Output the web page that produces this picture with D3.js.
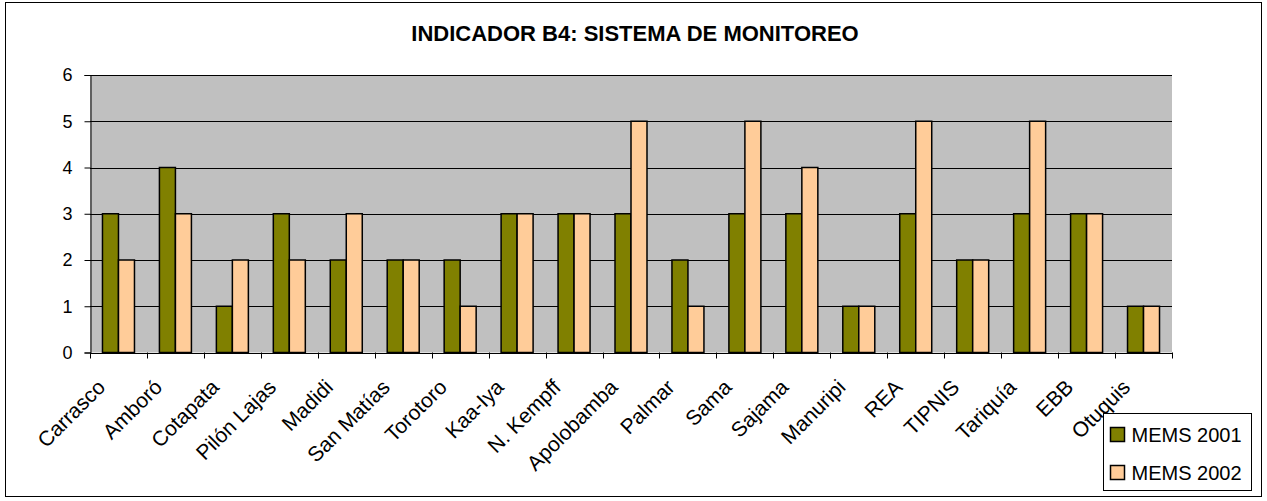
<!DOCTYPE html>
<html>
<head>
<meta charset="utf-8">
<script src="https://cdn.jsdelivr.net/npm/d3@7"></script>
<style>
  body { margin: 0; background: #fff; }
  svg { font-family: Arial, "Liberation Sans", sans-serif; }
</style>
</head>
<body>
<svg width="1267" height="501"></svg>
<script>
const areas = ["Carrasco", "Amboró", "Cotapata", "Pilón Lajas", "Madidi", "San Matías", "Torotoro",
  "Kaa-Iya", "N. Kempff", "Apolobamba", "Palmar", "Sama", "Sajama", "Manuripi", "REA", "TIPNIS",
  "Tariquía", "EBB", "Otuquis"]
const mems2001 = [3, 4, 1, 3, 2, 2, 2, 3, 3, 3, 2, 3, 3, 1, 3, 2, 3, 3, 1]
const mems2002 = [2, 3, 2, 2, 3, 2, 1, 3, 3, 5, 1, 5, 4, 1, 5, 2, 5, 3, 1]
const seriesNames = ["MEMS 2001", "MEMS 2002"]
const yTicks = [0, 1, 2, 3, 4, 5, 6]

let svg = d3.select("svg")

// chart border
svg.append("rect")
  .attr("x", 5.5).attr("y", 2.5).attr("width", 1256).attr("height", 494)
  .attr("fill", "#fff").attr("stroke", "#000")

let rows = areas.map((a, i) => ({ area: a, v: [mems2001[i], mems2002[i]] }))

let x = d3.scaleBand().domain(areas).range([90, 1172])
let xs = d3.scaleBand().domain([0, 1]).range([0, x.bandwidth()]).paddingInner(0).paddingOuter(0.78)
let y = d3.scaleLinear().domain([0, 6]).range([352.5, 75])
let fill = d3.scaleOrdinal().domain([0, 1]).range(["#808000", "#FFCC99"])

svg.append("rect")
  .attr("x", 90).attr("y", y(6)).attr("width", 1082).attr("height", y(0) - y(6))
  .attr("fill", "#C0C0C0")

svg.append("g")
  .selectAll("line")
  .data(yTicks.slice(1)).enter()
  .append("line")
  .attr("x1", 90).attr("x2", 1172)
  .attr("y1", d => Math.round(y(d)) + 0.5).attr("y2", d => Math.round(y(d)) + 0.5)
  .attr("stroke", "#000")

svg.append("g")
  .selectAll("g")
  .data(rows).enter()
  .append("g")
  .attr("transform", d => `translate(${x(d.area)},0)`)
  .selectAll("rect")
  .data(d => d.v.map((v, k) => ({ k, v }))).enter()
  .append("rect")
  .attr("x", d => xs(d.k))
  .attr("width", xs.bandwidth())
  .attr("y", d => y(d.v))
  .attr("height", d => y(0) - y(d.v))
  .attr("fill", d => fill(d.k))
  .attr("stroke", "#000")
  .attr("stroke-width", 1.5)

// y axis
let ya = svg.append("g").attr("transform", "translate(90.5,0)")
  .call(d3.axisLeft(y).tickValues(yTicks).tickSize(6).tickPadding(6).tickFormat(d3.format("d")))
ya.select(".domain").attr("stroke", "#000")
ya.selectAll("text").attr("font-size", 18).attr("fill", "#000").attr("dx", -6)
ya.selectAll("line").attr("stroke", "#000")

// x axis, ticks sit on the category boundaries
svg.append("line").attr("x1", 90).attr("x2", 1172)
  .attr("y1", Math.round(y(0)) + 0.5).attr("y2", Math.round(y(0)) + 0.5).attr("stroke", "#000")
svg.append("g").selectAll("line")
  .data(d3.range(areas.length + 1)).enter()
  .append("line")
  .attr("x1", i => Math.round(90 + i * x.step()) + 0.5)
  .attr("x2", i => Math.round(90 + i * x.step()) + 0.5)
  .attr("y1", y(0)).attr("y2", y(0) + 6)
  .attr("stroke", "#000")

svg.append("g").selectAll("text")
  .data(areas).enter()
  .append("text")
  .attr("transform", d => `translate(${x(d) + x.bandwidth() / 2 - 12},${y(0) + 36}) rotate(-45)`)
  .attr("text-anchor", "end")
  .attr("font-size", 21)
  .attr("fill", "#000")
  .text(d => d)

// title
svg.append("text")
  .attr("x", 635).attr("y", 41)
  .attr("text-anchor", "middle")
  .attr("font-size", 22)
  .attr("font-weight", "bold")
  .text("INDICADOR B4: SISTEMA DE MONITOREO")

// legend
let lg = svg.append("g").attr("transform", "translate(1103.5,413.5)")
lg.append("rect").attr("width", 148).attr("height", 77).attr("fill", "#fff").attr("stroke", "#000")
let item = lg.selectAll("g").data(seriesNames).enter()
  .append("g").attr("transform", (d, i) => `translate(7,${14 + i * 38})`)
item.append("rect").attr("width", 14).attr("height", 14)
  .attr("fill", (d, i) => fill(i)).attr("stroke", "#000").attr("stroke-width", 1.5)
item.append("text").attr("x", 21).attr("y", 14).attr("font-size", 20).text(d => d)
</script>
</body>
</html>
